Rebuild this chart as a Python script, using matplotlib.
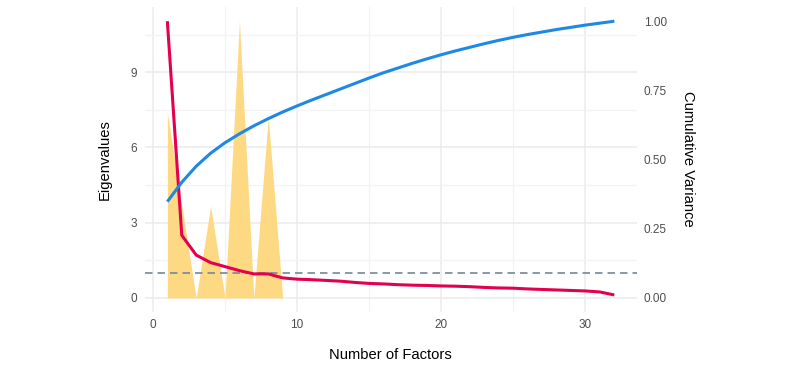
import matplotlib
matplotlib.use("Agg")
import matplotlib.pyplot as plt
from matplotlib.ticker import MultipleLocator

plt.rcParams['font.family'] = ['Liberation Sans', 'DejaVu Sans']

# scree data
factors = list(range(1, 33))
eigenvalues = [11.03, 2.50, 1.71, 1.41, 1.25, 1.09, 0.96, 0.96, 0.80, 0.75,
               0.73, 0.70, 0.67, 0.62, 0.58, 0.56, 0.53, 0.51, 0.50, 0.48,
               0.47, 0.45, 0.42, 0.40, 0.39, 0.36, 0.34, 0.32, 0.30, 0.28,
               0.24, 0.12]
cum_variance = [0.348, 0.418, 0.476, 0.523, 0.561, 0.593, 0.622, 0.648, 0.672, 0.694,
                0.715, 0.735, 0.755, 0.775, 0.795, 0.814, 0.831, 0.848, 0.864, 0.879,
                0.893, 0.906, 0.919, 0.931, 0.942, 0.952, 0.961, 0.970, 0.978, 0.986,
                0.993, 1.000]
# yellow area (parallel analysis style bumps)
area_x = [1, 2, 3, 4, 5, 6, 7, 8, 9]
area_y = [7.37, 3.70, 0.0, 3.67, 0.0, 11.05, 0.0, 7.22, 0.0]
kaiser = 1.0

y_lo, y_hi = -0.55, 11.6
scale = 11.03  # right axis: 1.00 lines up with the top eigenvalue

fig = plt.figure(figsize=(8, 3.71), dpi=100)
ax = fig.add_axes([0.18125, 0.1596, 0.6146, 0.8218])
ax2 = ax.twinx()

grid_c = '#ebebeb'
ax.set_xlim(-0.55, 33.55)
ax.set_ylim(y_lo, y_hi)
ax2.set_ylim(y_lo / scale, y_hi / scale)

ax.xaxis.set_major_locator(MultipleLocator(10))
ax.xaxis.set_minor_locator(MultipleLocator(5))
ax.yaxis.set_major_locator(MultipleLocator(3))
ax.yaxis.set_minor_locator(MultipleLocator(1.5))
ax2.set_yticks([0, 0.25, 0.5, 0.75, 1.0])
ax2.set_yticklabels(['0.00', '0.25', '0.50', '0.75', '1.00'])

ax.grid(True, which='major', color=grid_c, lw=1.1)
ax.grid(True, which='minor', color='#f3f3f3', lw=0.9)
ax.set_axisbelow(True)

for a in (ax, ax2):
    for s in a.spines.values():
        s.set_visible(False)
    a.tick_params(which='both', length=0, labelsize=8.5, labelcolor='#4d4d4d')
ax.tick_params(axis='y', pad=6)
ax.tick_params(axis='x', pad=5)
ax2.tick_params(axis='y', pad=5)

ax.fill_between(area_x, area_y, 0, color='#fed983', lw=0, zorder=2)
ax.axhline(kaiser, color='#76889a', lw=1.2, dashes=(4.5, 3), zorder=3)
ax.plot(factors, eigenvalues, color='#e3004f', lw=2.2, zorder=4,
        solid_joinstyle='round', solid_capstyle='butt')
ax2.plot(factors, cum_variance, color='#1e88e5', lw=2.2, zorder=4,
         solid_joinstyle='round', solid_capstyle='butt')

ax.set_xlabel('Number of Factors', fontsize=10.6)
ax.set_ylabel('Eigenvalues', fontsize=10.6)
ax2.set_ylabel('Cumulative Variance', fontsize=10.6, rotation=-90)

ax.xaxis.label.set_va('center')
ax.xaxis.set_label_coords(0.5, -0.1417)
ax.yaxis.label.set_va('center')
ax.yaxis.set_label_coords(-0.0813, 0.5)
ax2.yaxis.label.set_va('center')
ax2.yaxis.set_label_coords(1.104, 0.5)

fig.savefig('out.png', dpi=100)
